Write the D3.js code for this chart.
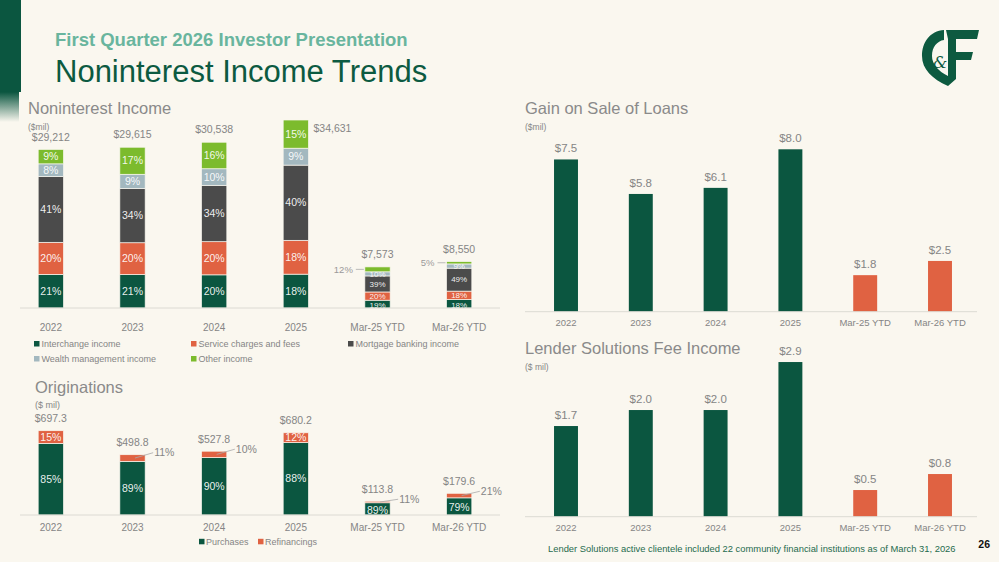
<!DOCTYPE html>
<html><head><meta charset="utf-8">
<script src="https://cdn.jsdelivr.net/npm/d3@7"></script>
<style>
html,body{margin:0;padding:0;background:#faf7ef;}
svg{display:block;font-family:"Liberation Sans",Arial,sans-serif;}
</style></head>
<body>
<svg id="c" width="999" height="562"></svg>
<script>
// ---------- DATA ----------
const categories = ["2022","2023","2024","2025","Mar-25 YTD","Mar-26 YTD"];
const nonintSeries = ["Interchange income","Service charges and fees","Mortgage banking income","Wealth management income","Other income"];
const nonintTotals = [29212, 29615, 30538, 34631, 7573, 8550];
const interchangePct = [21,21,20,18,19,18];
const servicePct     = [20,20,20,18,20,18];
const mortgagePct    = [41,34,34,40,39,49];
const wealthPct      = [8,9,10,9,10,9];
const otherPct       = [9,17,16,15,12,5];
const origSeries = ["Purchases","Refinancings"];
const origTotals = [697.3, 498.8, 527.8, 680.2, 113.8, 179.6];
const purchasesPct = [85,89,90,88,89,79];
const refiPct      = [15,11,10,12,11,21];
const gainOnSale = [7.5, 5.8, 6.1, 8.0, 1.8, 2.5];
const lenderFees = [1.7, 2.0, 2.0, 2.9, 0.5, 0.8];

// ---------- STYLE ----------
const GREEN="#0b5640", ORANGE="#e06242", DGRAY="#4b4b4b", BLUEG="#a3b8bf", LIME="#7cbb2d";
const nonintColors=[GREEN,ORANGE,DGRAY,BLUEG,LIME];
const TXT="#858585", AXIS="#dcdad3", BG="#faf7ef";
const svg=d3.select("#c");
svg.append("rect").attr("width",999).attr("height",562).attr("fill",BG);

// left brush strip
const defs=svg.append("defs");
const lg=defs.append("linearGradient").attr("id","fade").attr("x1",0).attr("y1",0).attr("x2",0).attr("y2",1);
lg.append("stop").attr("offset","0").attr("stop-color",GREEN).attr("stop-opacity",1);
lg.append("stop").attr("offset","1").attr("stop-color",GREEN).attr("stop-opacity",0);
svg.append("rect").attr("x",0).attr("y",0).attr("width",21).attr("height",92).attr("fill",GREEN);
svg.append("rect").attr("x",0).attr("y",92).attr("width",19).attr("height",30).attr("fill","url(#fade)");

// header
svg.append("text").attr("x",55).attr("y",45.5).attr("font-size",18.5).attr("font-weight","bold")
  .attr("fill","#69b59e").text("First Quarter 2026 Investor Presentation");
svg.append("text").attr("x",55).attr("y",82).attr("font-size",31).attr("fill","#0c5a41")
  .text("Noninterest Income Trends");

// logo
const logo=svg.append("g").attr("transform","translate(921,29)").attr("fill","#0d5a40");
logo.append("path").attr("d","M23,1 C9,2 1,13 1,27 C1,40 11,50 27,57 L27,47 C17,42 11,35 11,27 C11,18 16,12 23,11 Z");
logo.append("path").attr("d","M25,1 L58,1 L56,10 L35,10 L35,23 L52,23 L50,31 L35,31 L35,50 L27,57 L27,10 Z");
logo.append("text").attr("x",19).attr("y",39).attr("font-size",16).attr("font-family","'DejaVu Serif',serif")
  .attr("font-style","italic").attr("text-anchor","middle").text("&");

// page number & footnote
svg.append("text").attr("x",990).attr("y",548).attr("text-anchor","end").attr("font-size",10.5)
  .attr("font-weight","bold").attr("fill","#111").text("26");
svg.append("text").attr("x",548).attr("y",551.5).attr("font-size",9.4).attr("fill","#1f6b4e")
  .text("Lender Solutions active clientele included 22 community financial institutions as of March 31, 2026");

function title(x,y,t,sub,subY,subSize){
  svg.append("text").attr("x",x).attr("y",y).attr("font-size",16.5).attr("fill","#8a8a8a").text(t);
  svg.append("text").attr("x",x).attr("y",subY).attr("font-size",subSize).attr("fill",TXT).text(sub);
}
function xAxis(x,y0,padding,fs,x1,x2){
  svg.append("line").attr("x1",x1).attr("x2",x2).attr("y1",y0).attr("y2",y0).attr("stroke",AXIS).attr("stroke-width",1);
  const g=svg.append("g").attr("transform",`translate(0,${y0})`).call(d3.axisBottom(x).tickSize(0).tickPadding(padding));
  g.select(".domain").remove();
  g.selectAll("text").attr("font-size",fs).attr("fill",TXT).attr("font-family","'Liberation Sans',Arial,sans-serif");
}

// ---------- NONINTEREST INCOME ----------
title(28,113.5,"Noninterest Income","($mil)",129.5,8.5);
const x1=d3.scaleBand().domain(categories).range([10,500]).paddingInner(0.69).paddingOuter(0.345);
const base1=308;
const y1=d3.scaleLinear().domain([0,34631]).range([base1,120]);
const pctRows=[interchangePct,servicePct,mortgagePct,wealthPct,otherPct];
const stackData=categories.map((c,i)=>{
  const sum=d3.sum(pctRows,r=>r[i]);
  const o={cat:c};
  nonintSeries.forEach((s,k)=>{o[s]=nonintTotals[i]*pctRows[k][i]/sum;});
  return o;
});
const stack1=d3.stack().keys(nonintSeries)(stackData);
const gBars=svg.append("g"), gLbl=svg.append("g");
stack1.forEach((layer,k)=>{
  layer.forEach((d,i)=>{
    const xx=x1(categories[i]), bw=x1.bandwidth();
    const yt=y1(d[1]), yb=y1(d[0]), h=yb-yt;
    gBars.append("rect").attr("x",xx).attr("y",yt).attr("width",bw).attr("height",h)
      .attr("fill",nonintColors[k]).attr("stroke",BG).attr("stroke-width",0.7);
    const lbl=pctRows[k][i]+"%";
    if(k===4 && h<8){
      const ly=yt+h/2;
      gLbl.append("line").attr("x1",xx-9).attr("x2",xx-1).attr("y1",ly).attr("y2",ly).attr("stroke","#aaa").attr("stroke-width",0.8);
      gLbl.append("text").attr("x",xx-12).attr("y",ly).attr("dy","0.35em").attr("text-anchor","end")
        .attr("font-size",9.5).attr("fill","#9a9a9a").text(lbl);
    } else {
      const small=i>=4;
      const shift=small&&k===0?1.5:0;
      gLbl.append("text").attr("x",xx+bw/2).attr("y",yt+h/2+shift).attr("dy","0.35em").attr("text-anchor","middle")
        .attr("font-size",small?8:10.5).attr("fill","#fff").attr("fill-opacity",0.92).text(lbl);
    }
  });
});
nonintTotals.forEach((v,i)=>{
  const xx=x1(categories[i]), bw=x1.bandwidth(), top=y1(v);
  const t=svg.append("text").attr("font-size",10.5).attr("fill",TXT).attr("dy","0.35em").text("$"+d3.format(",")(v));
  if(i===3) t.attr("x",xx+bw+5).attr("y",top+8).attr("text-anchor","start");
  else t.attr("x",xx+bw/2).attr("y",top-12.5).attr("text-anchor","middle");
});
xAxis(x1,base1,16,10,20,500);
const legPos=[[34,344],[191,344],[348,344],[34,359],[191,359]];
nonintSeries.forEach((s,k)=>{
  const [lx,ly]=legPos[k];
  svg.append("rect").attr("x",lx).attr("y",ly-3).attr("width",5.5).attr("height",5.5).attr("fill",nonintColors[k]);
  svg.append("text").attr("x",lx+7.5).attr("y",ly).attr("dy","0.35em").attr("font-size",9).attr("fill",TXT).text(s);
});

// ---------- ORIGINATIONS ----------
title(35,393,"Originations","($ mil)",408,9);
const base2=515;
const y2=d3.scaleLinear().domain([0,697.3]).range([base2,430.7]);
const origData=categories.map((c,i)=>({cat:c,Purchases:origTotals[i]*purchasesPct[i]/100,Refinancings:origTotals[i]*refiPct[i]/100}));
const stack2=d3.stack().keys(origSeries)(origData);
const origColors=[GREEN,ORANGE];
const origPct=[purchasesPct,refiPct];
const oBars=svg.append("g"), oLbl=svg.append("g");
stack2.forEach((layer,k)=>{
  layer.forEach((d,i)=>{
    const xx=x1(categories[i]), bw=x1.bandwidth();
    const yt=y2(d[1]), yb=y2(d[0]), h=yb-yt;
    oBars.append("rect").attr("x",xx).attr("y",yt).attr("width",bw).attr("height",h)
      .attr("fill",origColors[k]).attr("stroke",BG).attr("stroke-width",0.7);
    const lbl=origPct[k][i]+"%";
    if(h<8){
      const lx=xx+bw+9, ly=yt-2;
      oLbl.append("line").attr("x1",xx+bw*0.6).attr("x2",lx-1).attr("y1",yt+h/2).attr("y2",ly).attr("stroke","#aaa").attr("stroke-width",0.8);
      oLbl.append("text").attr("x",lx).attr("y",ly).attr("dy","0.35em").attr("font-size",10.5).attr("fill",TXT).text(lbl);
    } else {
      oLbl.append("text").attr("x",xx+bw/2).attr("y",k===0&&h<25?yt+h/2+1:yt+h/2).attr("dy","0.35em").attr("text-anchor","middle")
        .attr("font-size",10.5).attr("fill","#fff").attr("fill-opacity",0.92).text(lbl);
    }
  });
});
origTotals.forEach((v,i)=>{
  const xx=x1(categories[i]), bw=x1.bandwidth();
  svg.append("text").attr("x",xx+bw/2).attr("y",y2(v)-12).attr("dy","0.35em").attr("text-anchor","middle")
    .attr("font-size",10.5).attr("fill",TXT).text("$"+d3.format(".1f")(v));
});
xAxis(x1,base2,8.5,10,20,500);
[[199,"Purchases"],[258,"Refinancings"]].forEach(([lx,s],k)=>{
  svg.append("rect").attr("x",lx).attr("y",538.8).attr("width",5.5).attr("height",5.5).attr("fill",origColors[k]);
  svg.append("text").attr("x",lx+7).attr("y",541.7).attr("dy","0.35em").attr("font-size",9).attr("fill",TXT).text(s);
});

// ---------- GAIN ON SALE / LENDER SOLUTIONS ----------
const x3=d3.scaleBand().domain(categories).range([528.6,977.4]).paddingInner(0.68).paddingOuter(0.34);
function simpleBars(vals,yScale,base){
  vals.forEach((v,i)=>{
    const xx=x3(categories[i]), bw=x3.bandwidth();
    svg.append("rect").attr("x",xx).attr("y",yScale(v)).attr("width",bw).attr("height",base-yScale(v))
      .attr("fill",i>=4?ORANGE:GREEN);
    svg.append("text").attr("x",xx+bw/2).attr("y",yScale(v)-11).attr("dy","0.35em").attr("text-anchor","middle")
      .attr("font-size",11.5).attr("fill",TXT).text("$"+d3.format(".1f")(v));
  });
}
title(525,114,"Gain on Sale of Loans","($mil)",130,8.5);
const base3=311.7;
const y3=d3.scaleLinear().domain([0,8]).range([base3,149.3]);
simpleBars(gainOnSale,y3,base3);
xAxis(x3,base3,8,9.5,525,977);

title(525,354,"Lender Solutions Fee Income","($ mil)",370,8.5);
const base4=516.7;
const y4=d3.scaleLinear().domain([0,3]).range([base4,516.7-160]);
simpleBars(lenderFees,y4,base4);
xAxis(x3,base4,8,9.5,525,977);
</script>
</body></html>
